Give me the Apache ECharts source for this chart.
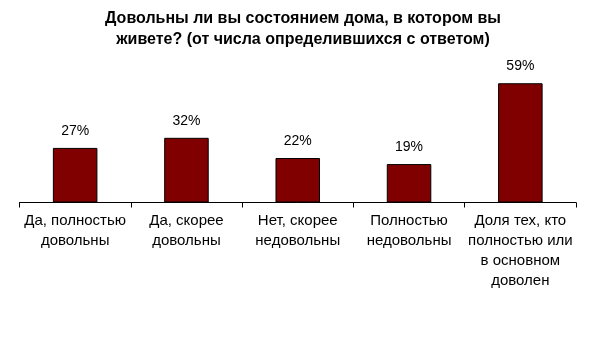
<!DOCTYPE html>
<html><head><meta charset="utf-8">
<script src="https://cdn.jsdelivr.net/npm/echarts@6/dist/echarts.min.js"></script>
<style>html,body{margin:0;padding:0;background:#fff}#c{width:606px;height:357px}</style>
</head><body><div id="c"></div>
<script>
const titleText = 'Довольны ли вы состоянием дома, в котором вы\nживете? (от числа определившихся с ответом)';
const categories = ['Да, полностью\nдовольны', 'Да, скорее\nдовольны', 'Нет, скорее\nнедовольны', 'Полностью\nнедовольны', 'Доля тех, кто\nполностью или\nв основном\nдоволен'];
const values = [27, 32, 22, 19, 59];

const chart = echarts.init(document.getElementById('c'), null, {renderer: 'canvas'});
chart.setOption({
  animation: false,
  backgroundColor: '#fff',
  title: {
    text: titleText,
    left: 'center',
    top: 3,
    textStyle: {fontFamily: 'Liberation Sans, Arial', fontSize: 16, fontWeight: 'bold', color: '#000', lineHeight: 21}
  },
  grid: {left: 19.5, right: 30, top: 61, bottom: 154.5, containLabel: false},
  xAxis: {
    type: 'category',
    data: categories,
    boundaryGap: true,
    axisLine: {lineStyle: {color: '#000', width: 1}},
    axisTick: {show: true, length: 5, lineStyle: {color: '#000'}},
    axisLabel: {interval: 0, margin: 8, color: '#000', fontFamily: 'Liberation Sans, Arial', fontSize: 15, lineHeight: 20}
  },
  yAxis: {
    type: 'value', min: 0, max: 70,
    show: false, splitLine: {show: false}
  },
  series: [{
    type: 'bar',
    data: values,
    barWidth: '40%',
    itemStyle: {color: '#800000', borderColor: '#000', borderWidth: 1},
    label: {show: true, position: 'top', distance: 10, formatter: '{c}%', color: '#000', fontFamily: 'Liberation Sans, Arial', fontSize: 14}
  }]
});
</script></body></html>
